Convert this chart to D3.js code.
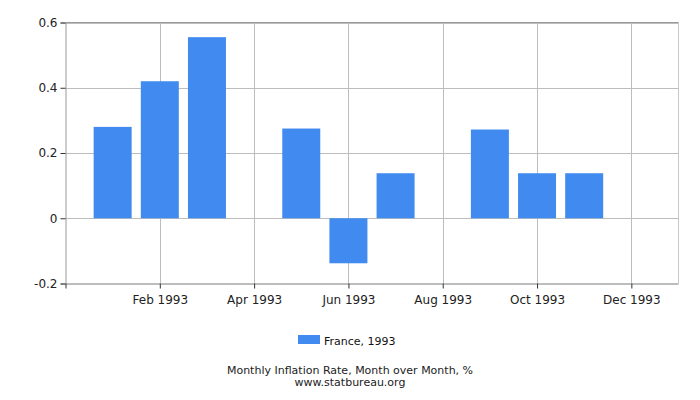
<!DOCTYPE html>
<html lang="en">
<head>
  <meta charset="utf-8" />
  <title>Monthly Inflation Rate, France 1993</title>
  <script src="https://d3js.org/d3.v7.min.js"></script>
  <style>
    body { margin: 0; background: #fff; }
    text { font-family: "DejaVu Sans", sans-serif; }
  </style>
</head>
<body>
<script>
  // data
  var months = ["Jan", "Feb", "Mar", "Apr", "May", "Jun", "Jul", "Aug", "Sep", "Oct", "Nov", "Dec"];
  var values = [0.28, 0.42, 0.555, 0, 0.275, -0.138, 0.138, 0, 0.272, 0.138, 0.138, 0];
  var xTickMonths = [2, 4, 6, 8, 10, 12];
  var xTickLabels = ["Feb 1993", "Apr 1993", "Jun 1993", "Aug 1993", "Oct 1993", "Dec 1993"];
  var yTicks = [-0.2, 0, 0.2, 0.4, 0.6];
  var yTickLabels = ["-0.2", "0", "0.2", "0.4", "0.6"];
  var seriesName = "France, 1993";

  var w = 700, h = 400;
  // plot box (note: "top" is reserved on window, so use plot* names)
  var plotL = 65.5, plotR = 678.5, plotT = 22.5, plotB = 283.5;
  var barColor = "#418bf0";

  var svg = d3.select("body").append("svg")
      .attr("width", w)
      .attr("height", h);

  // month index 1..12, with one slot of padding on both ends
  var x = d3.scaleLinear().domain([0, 13]).range([plotL, plotR]);
  var y = d3.scaleLinear().domain([-0.2, 0.6]).range([plotB, plotT]);

  // grid
  svg.append("g").selectAll("line")
      .data(yTicks)
      .enter().append("line")
      .attr("x1", plotL).attr("x2", plotR)
      .attr("y1", function(d) { return Math.round(y(d)) + 0.5; })
      .attr("y2", function(d) { return Math.round(y(d)) + 0.5; })
      .style("stroke", "#bdbdbd");

  svg.append("g").selectAll("line")
      .data(xTickMonths)
      .enter().append("line")
      .attr("x1", function(d) { return Math.round(x(d)) + 0.5; })
      .attr("x2", function(d) { return Math.round(x(d)) + 0.5; })
      .attr("y1", plotT).attr("y2", plotB)
      .style("stroke", "#bdbdbd");

  // right border
  svg.append("line")
      .attr("x1", plotR).attr("x2", plotR)
      .attr("y1", plotT).attr("y2", plotB)
      .style("stroke", "#c8c8c8");

  // bars
  var bw = 38;
  svg.selectAll("rect.bar")
      .data(values)
      .enter().append("rect")
      .attr("class", "bar")
      .attr("x", function(d, i) { return x(i + 1) - bw / 2; })
      .attr("y", function(d) { return y(Math.max(0, d)); })
      .attr("width", bw)
      .attr("height", function(d) { return Math.abs(y(d) - y(0)); })
      .attr("fill", barColor);

  // y axis
  var yAxis = d3.axisLeft(y)
      .tickValues(yTicks)
      .tickSize(5)
      .tickPadding(3)
      .tickFormat(function(d, i) { return yTickLabels[i]; });
  var gy = svg.append("g")
      .attr("transform", "translate(" + plotL + ",0)")
      .call(yAxis);
  gy.select(".domain").attr("stroke", "#999");
  gy.selectAll(".tick line").attr("stroke", "#333");
  gy.selectAll("text").attr("font-size", "12px").attr("fill", "#222")
      .style("font-family", "'DejaVu Sans', sans-serif");

  // x axis
  var xAxis = d3.axisBottom(x)
      .tickValues([0].concat(xTickMonths))
      .tickSize(5)
      .tickPadding(7)
      .tickFormat(function(d) {
        var k = xTickMonths.indexOf(d);
        return k < 0 ? "" : xTickLabels[k];
      });
  var gx = svg.append("g")
      .attr("transform", "translate(0," + plotB + ")")
      .call(xAxis);
  gx.select(".domain").attr("stroke", "#bdbdbd").attr("d", "M" + plotL + ",0H" + plotR);
  gx.selectAll(".tick line").attr("stroke", "#333");
  gx.selectAll("text").attr("font-size", "12px").attr("fill", "#222")
      .style("font-family", "'DejaVu Sans', sans-serif");

  // top border
  svg.append("line")
      .attr("x1", plotL).attr("x2", plotR)
      .attr("y1", plotT).attr("y2", plotT)
      .style("stroke", "#999");

  // legend
  svg.append("rect")
      .attr("x", 298).attr("y", 335)
      .attr("width", 22).attr("height", 9)
      .attr("fill", barColor);
  svg.append("text")
      .attr("x", 324).attr("y", 345)
      .attr("font-size", "11px")
      .attr("fill", "#111")
      .text(seriesName);

  // title
  svg.append("text")
      .attr("x", 350).attr("y", 374)
      .attr("text-anchor", "middle")
      .attr("font-size", "11px")
      .attr("fill", "#222")
      .text("Monthly Inflation Rate, Month over Month, %");
  svg.append("text")
      .attr("x", 350).attr("y", 386)
      .attr("text-anchor", "middle")
      .attr("font-size", "11px")
      .attr("fill", "#222")
      .text("www.statbureau.org");
</script>
</body>
</html>
